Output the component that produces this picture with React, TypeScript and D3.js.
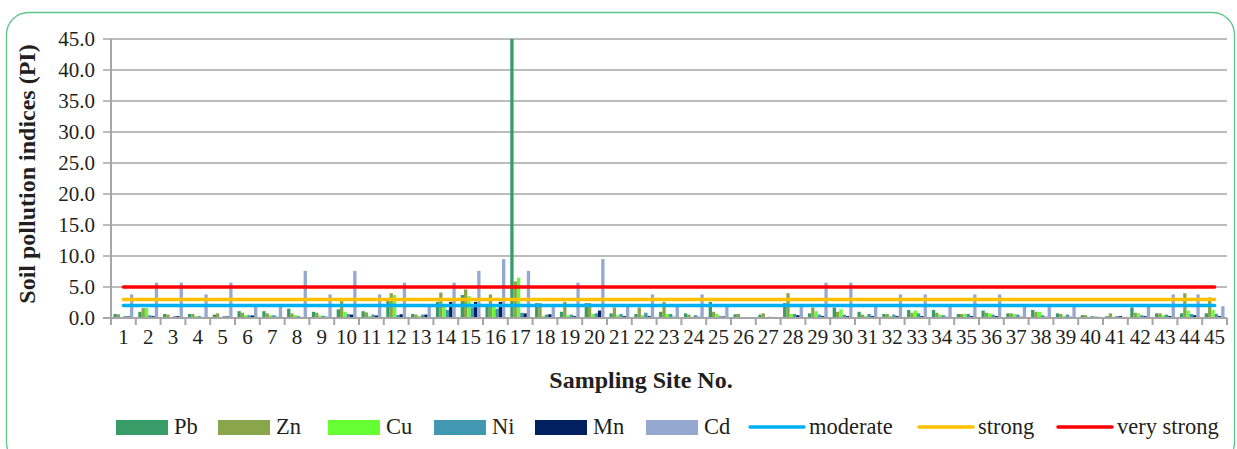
import React from 'react';
import * as d3 from 'd3';

// sampling sites 1..45
const sites = d3.range(1, 46).map(String);

const metals = ['Pb', 'Zn', 'Cu', 'Ni', 'Mn', 'Cd'];
const metalColors = ['#389c68', '#8aa64c', '#66ff33', '#4298b0', '#002060', '#95a9d0'];

const pb = [0.65, 1.0, 0.65, 0.65, 0.55, 1.1, 1.1, 1.5, 1.0, 1.4, 1.1, 3.2, 0.65, 2.6, 3.7, 2.0, 45, 2.4, 1.0, 2.4, 0.75, 0.65, 1.0, 0.75, 2.6, 0.6, 0.55, 2.4, 0.75, 1.7, 1.0, 0.65, 1.3, 1.3, 0.65, 1.2, 0.75, 1.3, 0.75, 0.45, 0.3, 1.7, 0.75, 0.75, 0.75];
const zn = [0.6, 1.6, 0.55, 0.65, 0.75, 0.85, 0.75, 0.75, 0.85, 2.8, 0.9, 4.0, 0.55, 4.1, 4.6, 3.8, 5.9, 2.4, 2.6, 2.4, 1.7, 1.7, 2.6, 0.55, 1.0, 0.65, 0.75, 4.0, 1.7, 1.0, 0.55, 0.65, 0.85, 0.85, 0.65, 0.85, 0.75, 1.0, 0.65, 0.45, 0.75, 0.85, 0.75, 4.0, 3.3];
const cu = [0.1, 1.6, 0.15, 0.3, 0.15, 0.45, 0.45, 0.45, 0.4, 1.0, 0.3, 3.7, 0.3, 2.2, 3.5, 2.0, 6.5, 0.3, 0.45, 0.65, 0.45, 0.45, 0.65, 0.2, 0.65, 0.1, 0.1, 0.65, 1.1, 1.4, 0.3, 0.3, 1.2, 0.55, 0.65, 0.75, 0.65, 1.0, 0.3, 0.2, 0.2, 0.75, 0.45, 1.2, 1.3];
const ni = [0.3, 0.45, 0.3, 0.3, 0.3, 0.45, 0.45, 0.3, 0.35, 0.65, 0.55, 0.5, 0.55, 1.3, 1.7, 1.5, 0.85, 0.55, 0.55, 0.75, 0.65, 0.85, 0.65, 0.45, 0.3, 0.1, 0.2, 0.65, 0.55, 0.55, 0.65, 0.55, 0.75, 0.45, 0.65, 0.55, 0.55, 0.45, 0.55, 0.3, 0.3, 0.45, 0.55, 0.65, 0.65];
const mn = [0.25, 0.3, 0.3, 0.15, 0.25, 0.4, 0.2, 0.15, 0.2, 0.55, 0.4, 0.6, 0.55, 2.6, 2.6, 2.6, 0.75, 0.6, 0.3, 1.2, 0.3, 0.3, 0.2, 0.2, 0.25, 0.1, 0.1, 0.45, 0.3, 0.3, 0.3, 0.3, 0.3, 0.2, 0.3, 0.3, 0.2, 0.2, 0.2, 0.2, 0.3, 0.3, 0.3, 0.45, 0.3];
const cd = [3.8, 5.7, 5.7, 3.8, 5.7, 1.9, 1.9, 7.6, 3.8, 7.6, 3.8, 5.7, 1.9, 5.7, 7.6, 9.5, 7.6, 1.9, 5.7, 9.5, 1.9, 3.8, 1.9, 3.8, 1.9, 0.1, 0.1, 1.9, 5.7, 5.7, 1.9, 3.8, 3.8, 1.9, 3.8, 3.8, 1.9, 1.9, 1.9, 0.2, 0.2, 1.9, 3.8, 3.8, 1.9];
const metalValues = [pb, zn, cu, ni, mn, cd];

// pollution class thresholds
const levels = ['moderate', 'strong', 'very strong'];
const levelValues = [2, 3, 5];
const levelColors = ['#00b0f0', '#ffc000', '#ff0000'];

const yTicks = d3.range(0, 46, 5);

const FONT = 'Liberation Serif, DejaVu Serif, serif';
const INK = '#231f20';
const GRID = '#a6a6a6';

const W = 1237;
const H = 449;
const plot = { left: 111, right: 1227, top: 39, bottom: 318 };

// legend layout (x of swatch start)
const legendX = [116, 218, 328, 434, 535, 646, 750, 919, 1058];

const txt = { fontFamily: FONT, fill: INK };

export default function App() {
  const x0 = d3.scaleBand<string>().domain(sites).range([plot.left, plot.right]).padding(0);
  const bw = x0.bandwidth();
  const x1 = d3.scaleBand<string>().domain(metals).range([bw * 0.1, bw * 0.9]).padding(0);
  const y = d3.scaleLinear().domain([0, 45]).range([plot.bottom, plot.top]);

  const lineGen = d3
    .line<string>()
    .x(s => (x0(s) ?? 0) + bw / 2);

  return (
    <div style={{ position: 'absolute', left: 0, top: 0 }}>
      <svg width={W} height={H} style={{ display: 'block' }}>
        <rect x={0} y={0} width={W} height={H} fill="#fff" />
        <rect x={6.5} y={12.5} width={1228} height={452} rx={22} fill="none" stroke="#5cc58c" strokeWidth={1.3} />

        {/* gridlines + y ticks */}
        {yTicks.map(t => (
          <g key={t}>
            <line x1={plot.left - 8} x2={plot.right} y1={y(t)} y2={y(t)} stroke={GRID} strokeWidth={t === 0 ? 2 : 1.4} />
            <text x={95} y={y(t) + 7} textAnchor="end" fontSize={21} style={txt}>
              {d3.format('.1f')(t)}
            </text>
          </g>
        ))}

        {/* bars */}
        {metals.map((m, mi) => (
          <g key={m} fill={metalColors[mi]}>
            {sites.map((s, si) => {
              const v = Math.min(metalValues[mi][si], 45);
              return (
                <rect
                  key={s}
                  x={(x0(s) ?? 0) + (x1(m) ?? 0)}
                  y={y(v)}
                  width={x1.bandwidth()}
                  height={y(0) - y(v)}
                />
              );
            })}
          </g>
        ))}

        {/* threshold lines */}
        {levels.map((l, li) => (
          <path
            key={l}
            d={lineGen.y(() => y(levelValues[li]))(sites) ?? ''}
            fill="none"
            stroke={levelColors[li]}
            strokeWidth={3.5}
            strokeLinecap="round"
          />
        ))}

        {/* axes */}
        <line x1={plot.left} x2={plot.left} y1={plot.top} y2={plot.bottom} stroke={GRID} strokeWidth={2} />
        <line x1={plot.left - 8} x2={plot.right} y1={plot.bottom} y2={plot.bottom} stroke={GRID} strokeWidth={2} />
        {d3.range(0, sites.length + 1).map(i => {
          const xx = plot.left + i * bw;
          return <line key={i} x1={xx} x2={xx} y1={plot.bottom} y2={plot.bottom + 7} stroke={GRID} strokeWidth={2} />;
        })}
        {sites.map(s => (
          <text key={s} x={(x0(s) ?? 0) + bw / 2} y={344} textAnchor="middle" fontSize={21} style={txt}>
            {s}
          </text>
        ))}

        {/* axis titles */}
        <text x={641} y={388} textAnchor="middle" fontSize={24} fontWeight="bold" style={txt}>
          Sampling Site No.
        </text>
        <text
          transform={`translate(35,174) rotate(-90)`}
          textAnchor="middle"
          fontSize={24}
          fontWeight="bold"
          style={txt}
        >
          Soil pollution indices (PI)
        </text>

        {/* legend */}
        {metals.map((m, i) => (
          <g key={m}>
            <rect x={legendX[i]} y={420} width={52} height={15} fill={metalColors[i]} />
            <text x={legendX[i] + 58} y={434} fontSize={22.5} style={txt}>
              {m}
            </text>
          </g>
        ))}
        {levels.map((l, i) => (
          <g key={l}>
            <line
              x1={legendX[6 + i]}
              x2={legendX[6 + i] + 54}
              y1={427}
              y2={427}
              stroke={levelColors[i]}
              strokeWidth={3.5}
              strokeLinecap="round"
            />
            <text x={legendX[6 + i] + 59} y={434} fontSize={22.5} style={txt}>
              {l}
            </text>
          </g>
        ))}
      </svg>
    </div>
  );
}
